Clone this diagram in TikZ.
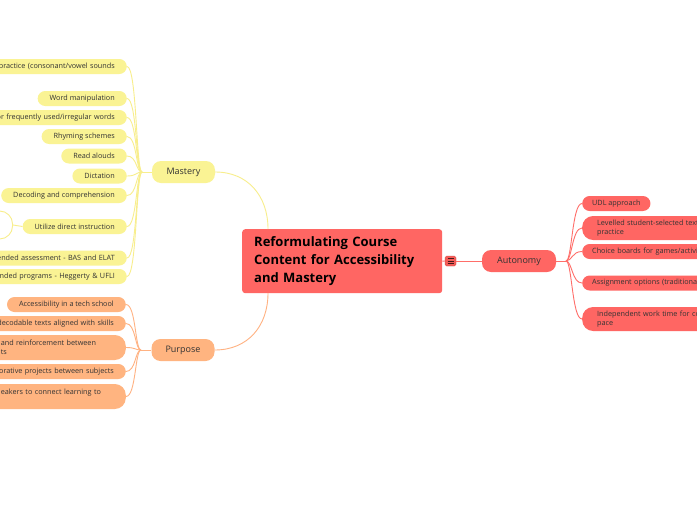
\documentclass[tikz,border=0pt]{standalone}
\usepackage{fontspec}
\setmainfont{Open Sans}
\definecolor{myyellow}{RGB}{250,243,148}
\definecolor{myorange}{RGB}{255,180,128}
\definecolor{myred}{RGB}{255,102,99}
\definecolor{ylinec}{RGB}{248,238,140}
\definecolor{olinec}{RGB}{255,178,130}
\definecolor{rlinec}{RGB}{255,110,105}
\definecolor{txt}{RGB}{51,51,51}
\definecolor{iconred}{RGB}{245,92,88}
\definecolor{icondark}{RGB}{70,25,25}
\tikzset{
  base/.style={minimum height=15pt, inner ysep=0pt, text=txt, font=\fontsize{7.25}{9.5}\selectfont},
  yleaf/.style={base, fill=myyellow, rounded corners=7.5pt, anchor=east, align=right, inner xsep=12pt},
  yleafcut/.style={yleaf, text width=150pt},
  oleaf/.style={base, fill=myorange, rounded corners=7.5pt, anchor=east, align=right, inner xsep=12pt},
  oleafcut/.style={oleaf, text width=150pt},
  oleaftwo/.style={base, fill=myorange, rounded corners=11pt, anchor=east, align=left, inner xsep=12pt, text width=113pt, minimum height=25pt},
  rleaf/.style={base, fill=myred, rounded corners=7.5pt, anchor=west, align=left, inner xsep=10pt},
  rleafcut/.style={rleaf, text width=160pt},
  rleaftwo/.style={base, fill=myred, rounded corners=11pt, anchor=west, align=left, inner xsep=15pt, text width=160pt, minimum height=24pt},
  mainb/.style={minimum height=22pt, minimum width=63pt, rounded corners=9pt, inner sep=0pt, text=txt, font=\fontsize{9}{11}\selectfont},
  ylink/.style={draw=ylinec, line width=0.9pt},
  olink/.style={draw=olinec, line width=0.9pt},
  rlink/.style={draw=rlinec, line width=0.9pt},
}
\begin{document}
\begin{tikzpicture}[x=1pt,y=-1pt]
\clip (0,-1) rectangle (697,519);
\fill[white] (0,-1) rectangle (697,519);

% central
\node (c) [fill=myred, rounded corners=3pt, anchor=north west, minimum width=200pt, minimum height=64pt, text width=176pt, inner xsep=12pt, inner ysep=0pt, align=left, font=\fontsize{13}{18}\selectfont\bfseries, text=black] at (242,228) {Reformulating Course\\Content for Accessibility\\and Mastery};

% main branches
\node (ms) [mainb, fill=myyellow] at (183.5,171) {Mastery};
\node (pu) [mainb, fill=myorange] at (183,349) {Purpose};
\node (au) [mainb, fill=myred, minimum width=74pt] at (519,260) {Autonomy};

% icon
\node (ic) [fill=iconred, draw=iconred!80!black, line width=0.3pt, rounded corners=1.5pt, minimum width=11pt, minimum height=10pt, inner sep=0pt] at (450.5,260) {};
\draw[icondark, line width=0.9pt] (447.5,257.3) -- (453.5,257.3) (447.5,260) -- (453.5,260) (447.5,262.7) -- (453.5,262.7);

\coordinate (ctop) at (268,228);
\coordinate (cbot) at (268,292);
\draw[ylink] (ms.east) .. controls (248,171) and (268,195) .. (ctop);
\draw[olink] (pu.east) .. controls (248,349) and (268,325) .. (cbot);
\draw[rlink] (c.east) -- (ic.west);
\draw[rlink] (ic.east) -- (au.west);

% Mastery children
\node (m1) [yleafcut] at (127,65.5) {practice (consonant/vowel sounds};
\node (m2) [yleaf] at (127,97.5) {Word manipulation};
\node (m3) [yleafcut] at (127,116.5) {or frequently used/irregular words};
\node (m4) [yleaf] at (127,135.5) {Rhyming schemes};
\node (m5) [yleaf] at (127,155) {Read alouds};
\node (m6) [yleaf] at (127,175) {Dictation};
\node (m7) [yleaf] at (127,194.5) {Decoding and comprehension};
\node (m8) [yleaf] at (127,225.5) {Utilize direct instruction};
\node (m9) [yleafcut] at (127,257) {ended assessment - BAS and ELAT};
\node (m10) [yleafcut] at (127,275.5) {ended programs - Heggerty \& UFLI};
\node (m8a) [draw=ylinec, line width=0.9pt, fill=white, rounded corners=13pt, minimum width=60pt, minimum height=28pt, anchor=east, inner sep=0pt] at (13,224) {};
\draw[ylink] (m8a.east) -- (m8.west);

\coordinate (mj) at (142,171);
\draw[ylink] (ms.west) -- (mj);
\foreach \n in {m1,m2,m3,m4,m5,m6,m7,m8,m9,m10}
  \draw[ylink] (mj) .. controls +(-6,0) and +(10,0) .. (\n.east);

% Purpose children
\node (p1) [oleaf] at (126,303.5) {Accessibility in a tech school};
\node (p2) [oleafcut] at (126,322.5) {decodable texts aligned with skills};
\node (p3) [oleaftwo] at (126,346.5) {and reinforcement between\\ts};
\node (p4) [oleafcut] at (126,370.5) {orative projects between subjects};
\node (p5) [oleaftwo] at (126,395.5) {eakers to connect learning to\\\hbox{}};

\coordinate (pj) at (141,349);
\draw[olink] (pu.west) -- (pj);
\foreach \n in {p1,p2,p3,p4,p5}
  \draw[olink] (pj) .. controls +(-6,0) and +(10,0) .. (\n.east);

% Autonomy children
\node (a1) [rleaf] at (582,202.5) {UDL approach};
\node (a2) [rleaftwo] at (582,227) {Levelled student-selected text\\practice};
\node (a3) [rleafcut] at (582,250.5) {Choice boards for games/activiti};
\node (a4) [rleafcut] at (582,282) {Assignment options (traditional};
\node (a5) [rleaftwo] at (582,318) {Independent work time for co\\pace};

\coordinate (aj) at (566,260);
\draw[rlink] (au.east) -- (aj);
\foreach \n in {a1,a2,a3,a4,a5}
  \draw[rlink] (aj) .. controls +(6,0) and +(-10,0) .. (\n.west);
\end{tikzpicture}
\end{document}
